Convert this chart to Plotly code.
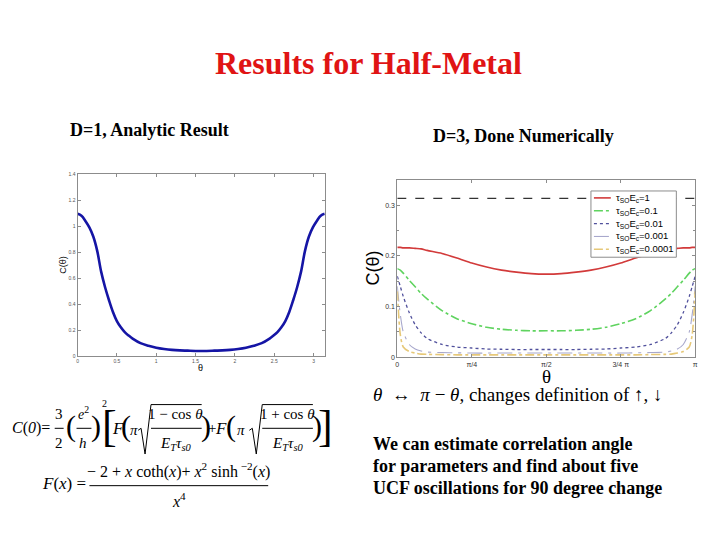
import numpy as np
import plotly.graph_objects as go

W, H = 720, 540
OFF = 8  # page body margin of the html page

# D=1 analytic curve, theta in radians
theta_1d = [0, 0.05, 0.1, 0.15, 0.2, 0.25, 0.3, 0.35, 0.4, 0.45, 0.5, 0.55,
            0.6, 0.65, 0.7, 0.8, 0.9, 1.0, 1.1, 1.2, 1.3, 1.4, 1.5, 1.57,
            1.64, 1.74, 1.84, 1.94, 2.04, 2.14, 2.24, 2.34, 2.44, 2.49, 2.54, 2.59, 2.64,
            2.69, 2.74, 2.79, 2.84, 2.89, 2.94, 2.99, 3.04, 3.09, 3.14]
c_1d = [1.095, 1.08, 1.04, 0.99, 0.92, 0.81, 0.65, 0.53, 0.43, 0.34, 0.27, 0.222,
        0.185, 0.158, 0.135, 0.10, 0.08, 0.065, 0.055, 0.048, 0.044, 0.042, 0.040, 0.040,
        0.040, 0.042, 0.044, 0.048, 0.055, 0.065, 0.08, 0.10, 0.135, 0.158, 0.185, 0.222, 0.27,
        0.34, 0.43, 0.53, 0.65, 0.81, 0.92, 0.99, 1.04, 1.08, 1.095]

# D=3 numerical curves, theta in units of pi
theta_3d = [0, 0.01, 0.02, 0.04, 0.06, 0.08, 0.10, 0.15, 0.20, 0.25, 0.30, 0.35, 0.40, 0.45,
            0.50, 0.55, 0.60, 0.65, 0.70, 0.75, 0.80, 0.85, 0.90, 0.92, 0.94, 0.96, 0.98, 0.99, 1.0]
c_e1 = [0.217, 0.217, 0.216, 0.216, 0.215, 0.214, 0.211, 0.205, 0.196, 0.186, 0.178, 0.172, 0.168, 0.165,
        0.164, 0.165, 0.168, 0.172, 0.178, 0.186, 0.196, 0.205, 0.211, 0.214, 0.215, 0.216, 0.216, 0.217, 0.217]
c_e01 = [0.175, 0.172, 0.166, 0.152, 0.139, 0.126, 0.115, 0.092, 0.076, 0.066, 0.059, 0.055, 0.053, 0.052,
         0.052, 0.052, 0.053, 0.055, 0.059, 0.066, 0.076, 0.092, 0.115, 0.126, 0.139, 0.152, 0.166, 0.172, 0.175]
c_e001 = [0.160, 0.140, 0.120, 0.088, 0.064, 0.048, 0.037, 0.025, 0.020, 0.018, 0.016, 0.0155, 0.015, 0.015,
          0.015, 0.015, 0.015, 0.0155, 0.016, 0.018, 0.020, 0.025, 0.037, 0.048, 0.064, 0.088, 0.120, 0.140, 0.160]
c_e0001 = [0.140, 0.085, 0.050, 0.025, 0.016, 0.012, 0.010, 0.009, 0.0085, 0.008, 0.008, 0.008, 0.008, 0.008,
           0.008, 0.008, 0.008, 0.008, 0.008, 0.008, 0.0085, 0.009, 0.010, 0.012, 0.016, 0.025, 0.050, 0.085, 0.140]
c_e00001 = [0.130, 0.045, 0.020, 0.011, 0.008, 0.006, 0.0055, 0.005, 0.0045, 0.0045, 0.0045, 0.0045, 0.0045, 0.0045,
            0.0045, 0.0045, 0.0045, 0.0045, 0.0045, 0.0045, 0.0045, 0.005, 0.0055, 0.006, 0.008, 0.011, 0.020, 0.045, 0.130]
c_limit = 0.314

legend_names = ["τ<sub>SO</sub>E<sub>c</sub>=1", "τ<sub>SO</sub>E<sub>c</sub>=0.1",
                "τ<sub>SO</sub>E<sub>c</sub>=0.01", "τ<sub>SO</sub>E<sub>c</sub>=0.001",
                "τ<sub>SO</sub>E<sub>c</sub>=0.0001"]
pi_ticks = [0, 0.25, 0.5, 0.75, 1]
pi_labels = ["0", "π/4", "π/2", "3/4 π", "π"]

SERIF = "Liberation Serif"
SANS = "Liberation Sans"


def px(x, y):
    return (x - OFF) / W, 1 - (y - OFF) / H


def txt(s, x, y, size, font=SERIF, color="black", xanchor="center", angle=0):
    ax, ay = px(x, y)
    return dict(text=s, x=ax, y=ay, xref="paper", yref="paper", showarrow=False,
                xanchor=xanchor, yanchor="middle", textangle=angle,
                font=dict(family=font, size=size, color=color))


def hline(x0, x1, y, width=1, color="black", dash="solid"):
    a0, b = px(x0, y)
    a1, _ = px(x1, y)
    return dict(type="line", xref="paper", yref="paper", x0=a0, x1=a1, y0=b, y1=b,
                layer="above", line=dict(color=color, width=width, dash=dash))


def radical(x0, x1, ytop, ybot):
    pts = [(x0 - 3, ytop + 26), (x0, ytop + 24), (x0 + 4, ybot), (x0 + 10, ytop), (x1, ytop)]
    path = "M " + " L ".join("%.5f %.5f" % px(a, b) for a, b in pts)
    return dict(type="path", xref="paper", yref="paper", path=path,
                line=dict(color="black", width=1))


fig = go.Figure()

fig.add_trace(go.Scatter(x=theta_1d, y=c_1d, mode="lines", line_shape="spline",
                         line=dict(color="#1515a5", width=2.6), showlegend=False,
                         xaxis="x", yaxis="y"))

fig.add_trace(go.Scatter(x=[0, 1], y=[c_limit, c_limit], mode="lines",
                         line=dict(color="black", width=1, dash="dash"), showlegend=False,
                         xaxis="x2", yaxis="y2"))
styles = [("#d23a3a", "solid", 1.6), ("#5fd35f", "dashdot", 1.6), ("#50509c", "dot", 1.3),
          ("#a8a8cc", "longdashdot", 1.1), ("#e6c878", "dashdot", 1.6)]
for ys, name, (col, dash, lw) in zip([c_e1, c_e01, c_e001, c_e0001, c_e00001], legend_names, styles):
    fig.add_trace(go.Scatter(x=theta_3d, y=ys, mode="lines", name=name, showlegend=False,
                             line=dict(color=col, dash=dash, width=lw, shape="spline", smoothing=0.7),
                             xaxis="x2", yaxis="y2"))

ax_common = dict(showgrid=False, zeroline=False, showline=True, linecolor="#8c8c8c", linewidth=1,
                 mirror="ticks", ticks="inside", tickcolor="#8c8c8c", ticklen=3)

fig.update_layout(
    width=W, height=H, autosize=False,
    margin=dict(l=0, r=0, t=0, b=0),
    paper_bgcolor="white", plot_bgcolor="white",
    showlegend=False,
    xaxis=dict(domain=[(76 - OFF) / W, (325 - OFF) / W], range=[0, 3.1416],
               tickvals=[0, 0.5, 1, 1.5, 2, 2.5, 3],
               tickfont=dict(family=SANS, size=5, color="#555"), **ax_common),
    yaxis=dict(domain=[1 - (357 - OFF) / H, 1 - (173 - OFF) / H], range=[0, 1.4], dtick=0.2,
               tickfont=dict(family=SANS, size=5, color="#555"), **ax_common),
    xaxis2=dict(domain=[(398 - OFF) / W, (698 - OFF) / W], range=[0, 1], tickvals=pi_ticks,
                ticktext=pi_labels, anchor="y2",
                tickfont=dict(family=SANS, size=7, color="#333"), **ax_common),
    yaxis2=dict(domain=[1 - (358 - OFF) / H, 1 - (179 - OFF) / H], range=[0, 0.35],
                tickvals=[0, 0.1, 0.2, 0.3], anchor="x2",
                minor=dict(dtick=0.05, ticks="inside", ticklen=2, tickcolor="#8c8c8c"),
                tickfont=dict(family=SANS, size=7, color="#333"), **ax_common),
)

ann = [
    txt("<b>Results for Half-Metal</b>", 369, 61, 32, color="#e01414"),
    txt("<b>D=1, Analytic Result</b>", 66, 128, 18, xanchor="left"),
    txt("<b>D=3, Done Numerically</b>", 432, 134, 18, xanchor="left"),
    txt("C(θ)", 62, 265, 9, font=SANS, angle=-90),
    txt("θ", 200, 369, 9, font=SANS),
    txt("C(θ)", 374, 268, 18, font=SANS, angle=-90),
    txt("θ", 548, 378, 19),
    txt("<i>θ</i>  ↔  <i>π</i> − <i>θ</i>, changes definition of ↑, ↓", 372, 396, 19, xanchor="left"),
    txt("<b>We can estimate correlation angle</b>", 372, 446, 18, xanchor="left"),
    txt("<b>for parameters and find about five</b>", 372, 468, 18, xanchor="left"),
    txt("<b>UCF oscillations for 90 degree change</b>", 372, 490, 18, xanchor="left"),
    # C(0) equation
    txt("<i>C</i>(<i>0</i>)=", 8, 430, 16, xanchor="left"),
    txt("3", 57, 416, 15), txt("2", 57, 445, 15),
    txt("(", 69, 428, 30), txt(")", 95, 428, 30),
    txt("<i>e</i><sup>2</sup>", 82, 415, 14), txt("<i>h</i>", 82, 445, 15),
    txt("2", 103, 405, 10),
    txt("[", 108, 428, 44),
    txt("<i>F</i>", 117, 430, 17),
    txt("(", 125, 428, 30), txt("<i>π</i>", 133, 432, 15),
    txt("1 − cos <i>θ</i>", 175, 416, 15),
    txt("<i>E<sub>T</sub>τ<sub>s0</sub></i>", 175, 446, 15),
    txt(")", 205, 428, 30),
    txt("+", 211, 430, 15),
    txt("<i>F</i>", 220, 430, 17),
    txt("(", 231, 428, 30), txt("<i>π</i>", 241, 432, 15),
    txt("1 + cos <i>θ</i>", 287, 416, 15),
    txt("<i>E<sub>T</sub>τ<sub>s0</sub></i>", 287, 446, 15),
    txt(")", 317, 428, 30),
    txt("]", 326, 428, 44),
    # F(x) equation
    txt("<i>F</i>(<i>x</i>) =", 38, 486, 17, xanchor="left"),
    txt("− 2 + <i>x</i> coth(<i>x</i>)+ <i>x</i><sup>2</sup> sinh<sup> −2</sup>(<i>x</i>)", 178, 473, 16),
    txt("<i>x</i><sup>4</sup>", 178, 502, 16),
]

shapes = [
    hline(53, 62, 430), hline(75, 90, 430),
    hline(150, 201, 430), hline(262, 313, 430),
    hline(88, 268, 488),
    radical(140, 201, 406, 456), radical(252, 313, 406, 456),
]

# legend box drawn by hand to keep the compact spacing of the original
bx0, by0 = px(593, 190)
bx1, by1 = px(679, 257)
shapes.append(dict(type="rect", xref="paper", yref="paper", x0=bx0, y0=by0, x1=bx1, y1=by1,
                   layer="above", fillcolor="white", line=dict(color="#8c8c8c", width=1)))
for i, (name, (col, dash, lw)) in enumerate(zip(legend_names, styles)):
    ly = 197 + 13 * i
    shapes.append(hline(596, 613, ly, width=lw, color=col, dash=dash))
    ann.append(txt(name, 616, ly, 9.5, font=SANS, xanchor="left"))

fig.update_layout(annotations=ann, shapes=shapes)

fig.write_html("out.html")
